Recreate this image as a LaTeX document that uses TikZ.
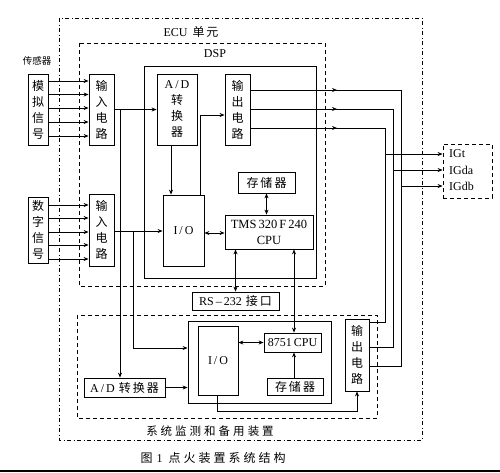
\documentclass[tikz,border=0pt]{standalone}
\usepackage{fontspec}
\setmainfont{Liberation Serif}
\newfontfamily\cjk{Noto Sans CJK SC}
\usetikzlibrary{arrows.meta}
\begin{document}
\begin{tikzpicture}[x=1pt,y=-1pt,
  box/.style={draw, line width=0.8pt, inner sep=0pt, align=center, font=\fontsize{12}{16}\selectfont},
  cbox/.style={box, font=\cjk\fontsize{12}{16}\selectfont},
  conn/.style={line width=0.8pt},
  arr/.style={conn,-{Stealth[length=5pt,width=4pt]}},
  darr/.style={conn,{Stealth[length=5pt,width=4pt]}-{Stealth[length=5pt,width=4pt]}},
  dashbox/.style={line width=0.8pt, dash pattern=on 4pt off 3pt},
  dotdash/.style={line width=0.8pt, dash pattern=on 4pt off 2.5pt on 1pt off 2.5pt},
  lbl/.style={font=\fontsize{12}{14}\selectfont, inner sep=0pt},
  clbl/.style={font=\cjk\fontsize{11.5}{13}\selectfont, inner sep=0pt}
]
\useasboundingbox (0,0) rectangle (500,472);
% container boxes
\draw[dotdash] (59,18) rectangle (422,440);
\draw[dashbox] (79,43) rectangle (325,286);
\draw[conn] (144,66) rectangle (316,278);
\draw[dashbox] (77,315) rectangle (377,418);
\node[draw, dashbox, minimum width=49pt, minimum height=54pt] (ig) at (467.5,171) {};
% labels
\node[lbl] (ecul) at (191,32) {ECU\hspace{5pt}{\cjk 单\hspace{2pt}元}};
\node[lbl] (dspl) at (215,54) {DSP};
\node[clbl, font=\cjk\fontsize{9.5}{11}\selectfont] (sens) at (37,61) {传感器};
\node[clbl] (sysl) at (210,431) {系\hspace{3pt}统\hspace{3pt}监\hspace{3pt}测\hspace{3pt}和\hspace{3pt}备\hspace{3pt}用\hspace{3pt}装\hspace{3pt}置};
\node[lbl] (cap) at (213,458) {{\cjk 图}\hspace{4pt}1\hspace{6pt}{\cjk 点\hspace{3pt}火\hspace{3pt}装\hspace{3pt}置\hspace{3pt}系\hspace{3pt}统\hspace{3pt}结\hspace{3pt}构}};
\node[lbl, anchor=west] (igt) at (449,154) {IGt};
\node[lbl, anchor=west] (igda) at (449,170) {IGda};
\node[lbl, anchor=west] (igdb) at (449,186) {IGdb};
% blocks
\node[cbox, minimum width=20pt, minimum height=71pt] (ana) at (38,109.5) {模\\拟\\信\\号};
\node[cbox, minimum width=25pt, minimum height=71pt] (in1) at (101.5,109.5) {输\\入\\电\\路};
\node[box, minimum width=40pt, minimum height=71pt] (ad1) at (177,109.5) {A\,/\,D\\{\cjk 转}\\{\cjk 换}\\{\cjk 器}};
\node[cbox, minimum width=25pt, minimum height=71pt] (out1) at (237.5,109.5) {输\\出\\电\\路};
\node[cbox, minimum width=57pt, minimum height=21pt] (mem1) at (266.5,182.5) {存\hspace{2pt}储\hspace{2pt}器};
\node[box, minimum width=41pt, minimum height=71pt] (io1) at (183.5,230.5) {I\,/\,O};
\node[box, minimum width=88pt, minimum height=34pt, font=\fontsize{12.5}{16}\selectfont] (cpu1) at (269,232) {TMS\,320\,F\,240\\CPU};
\node[cbox, minimum width=20pt, minimum height=66pt] (dig) at (38,230) {数\\字\\信\\号};
\node[cbox, minimum width=25pt, minimum height=72pt] (in2) at (101.5,230) {输\\入\\电\\路};
\node[box, minimum width=87pt, minimum height=18pt] (rs) at (235.5,301) {RS\,–\,232\hspace{4pt}{\cjk 接\hspace{2pt}口}};
\node[draw, conn, minimum width=143pt, minimum height=82pt] (low) at (259.5,362) {};
\node[box, minimum width=40pt, minimum height=69pt] (io2) at (218,360.5) {I\,/\,O};
\node[box, minimum width=57pt, minimum height=19pt] (cpu2) at (292.5,342.5) {8751\,CPU};
\node[cbox, minimum width=56pt, minimum height=17pt] (mem2) at (295,386.5) {存\hspace{2pt}储\hspace{2pt}器};
\node[box, minimum width=81pt, minimum height=19pt] (ad2) at (124.5,387.5) {A\,/\,D\hspace{4pt}{\cjk 转\hspace{2pt}换\hspace{2pt}器}};
\node[cbox, minimum width=24pt, minimum height=72pt] (out2) at (357,355) {输\\出\\电\\路};
% connectors
\foreach \y in {81,94.5,108,122,136} \draw[arr] (ana.east |- 0,\y) -- (in1.west |- 0,\y);
\foreach \y in {205,218,232,245,259} \draw[arr] (dig.east |- 0,\y) -- (in2.west |- 0,\y);
\draw[arr] (in1.east) -- (ad1.west);
\coordinate (j1) at (120,109.5);
\draw[arr] (j1) -- (j1 |- ad2.north);
\draw[arr] (in2.east |- 0,231) -- (io1.west |- 0,231);
\coordinate (j2) at (133,231);
\draw[arr] (j2) |- (low.west |- 0,348);
\draw[arr] (ad2.east) -- (low.west |- ad2.east);
\draw[arr] (ad1.south -| 171,0) -- (io1.north -| 171,0);
\draw[arr] (io1.north -| 200,0) |- (out1.west |- 0,115);
\draw[darr] (io1.east |- 0,233) -- (cpu1.west |- 0,233);
\draw[darr] (mem1.south) -- (cpu1.north -| mem1.south);
\draw[darr] (cpu1.south -| rs.north) -- (rs.north);
\draw[darr] (cpu1.south -| 294,0) -- (cpu2.north -| 294,0);
\draw[arr] (mem2.north -| 294,0) -- (cpu2.south -| 294,0);
\draw[darr] (io2.east |- cpu2.west) -- (cpu2.west);
\draw[arr] (io2.south -| 217,0) -- (217,411) -| (out2.south);
\foreach \ya/\xv/\yb in {90/401/366, 109/393/347, 128/385/322} {
  \draw[conn] (out1.east |- 0,\ya) -- (\xv,\ya) -- (\xv,\yb) -- (out2.east |- 0,\yb);
  \draw[arr] (out1.east |- 0,\ya) -- (337,\ya);
}
\coordinate (ja) at (385,154);
\coordinate (jb) at (393,170);
\coordinate (jc) at (401,186);
\draw[arr] (ja) -- (ig.west |- ja);
\draw[arr] (jb) -- (ig.west |- jb);
\draw[arr] (jc) -- (ig.west |- jc);
% bottom edge line
\draw[line width=2pt] (0,470.5) -- (500,470.5);
\end{tikzpicture}
\end{document}
